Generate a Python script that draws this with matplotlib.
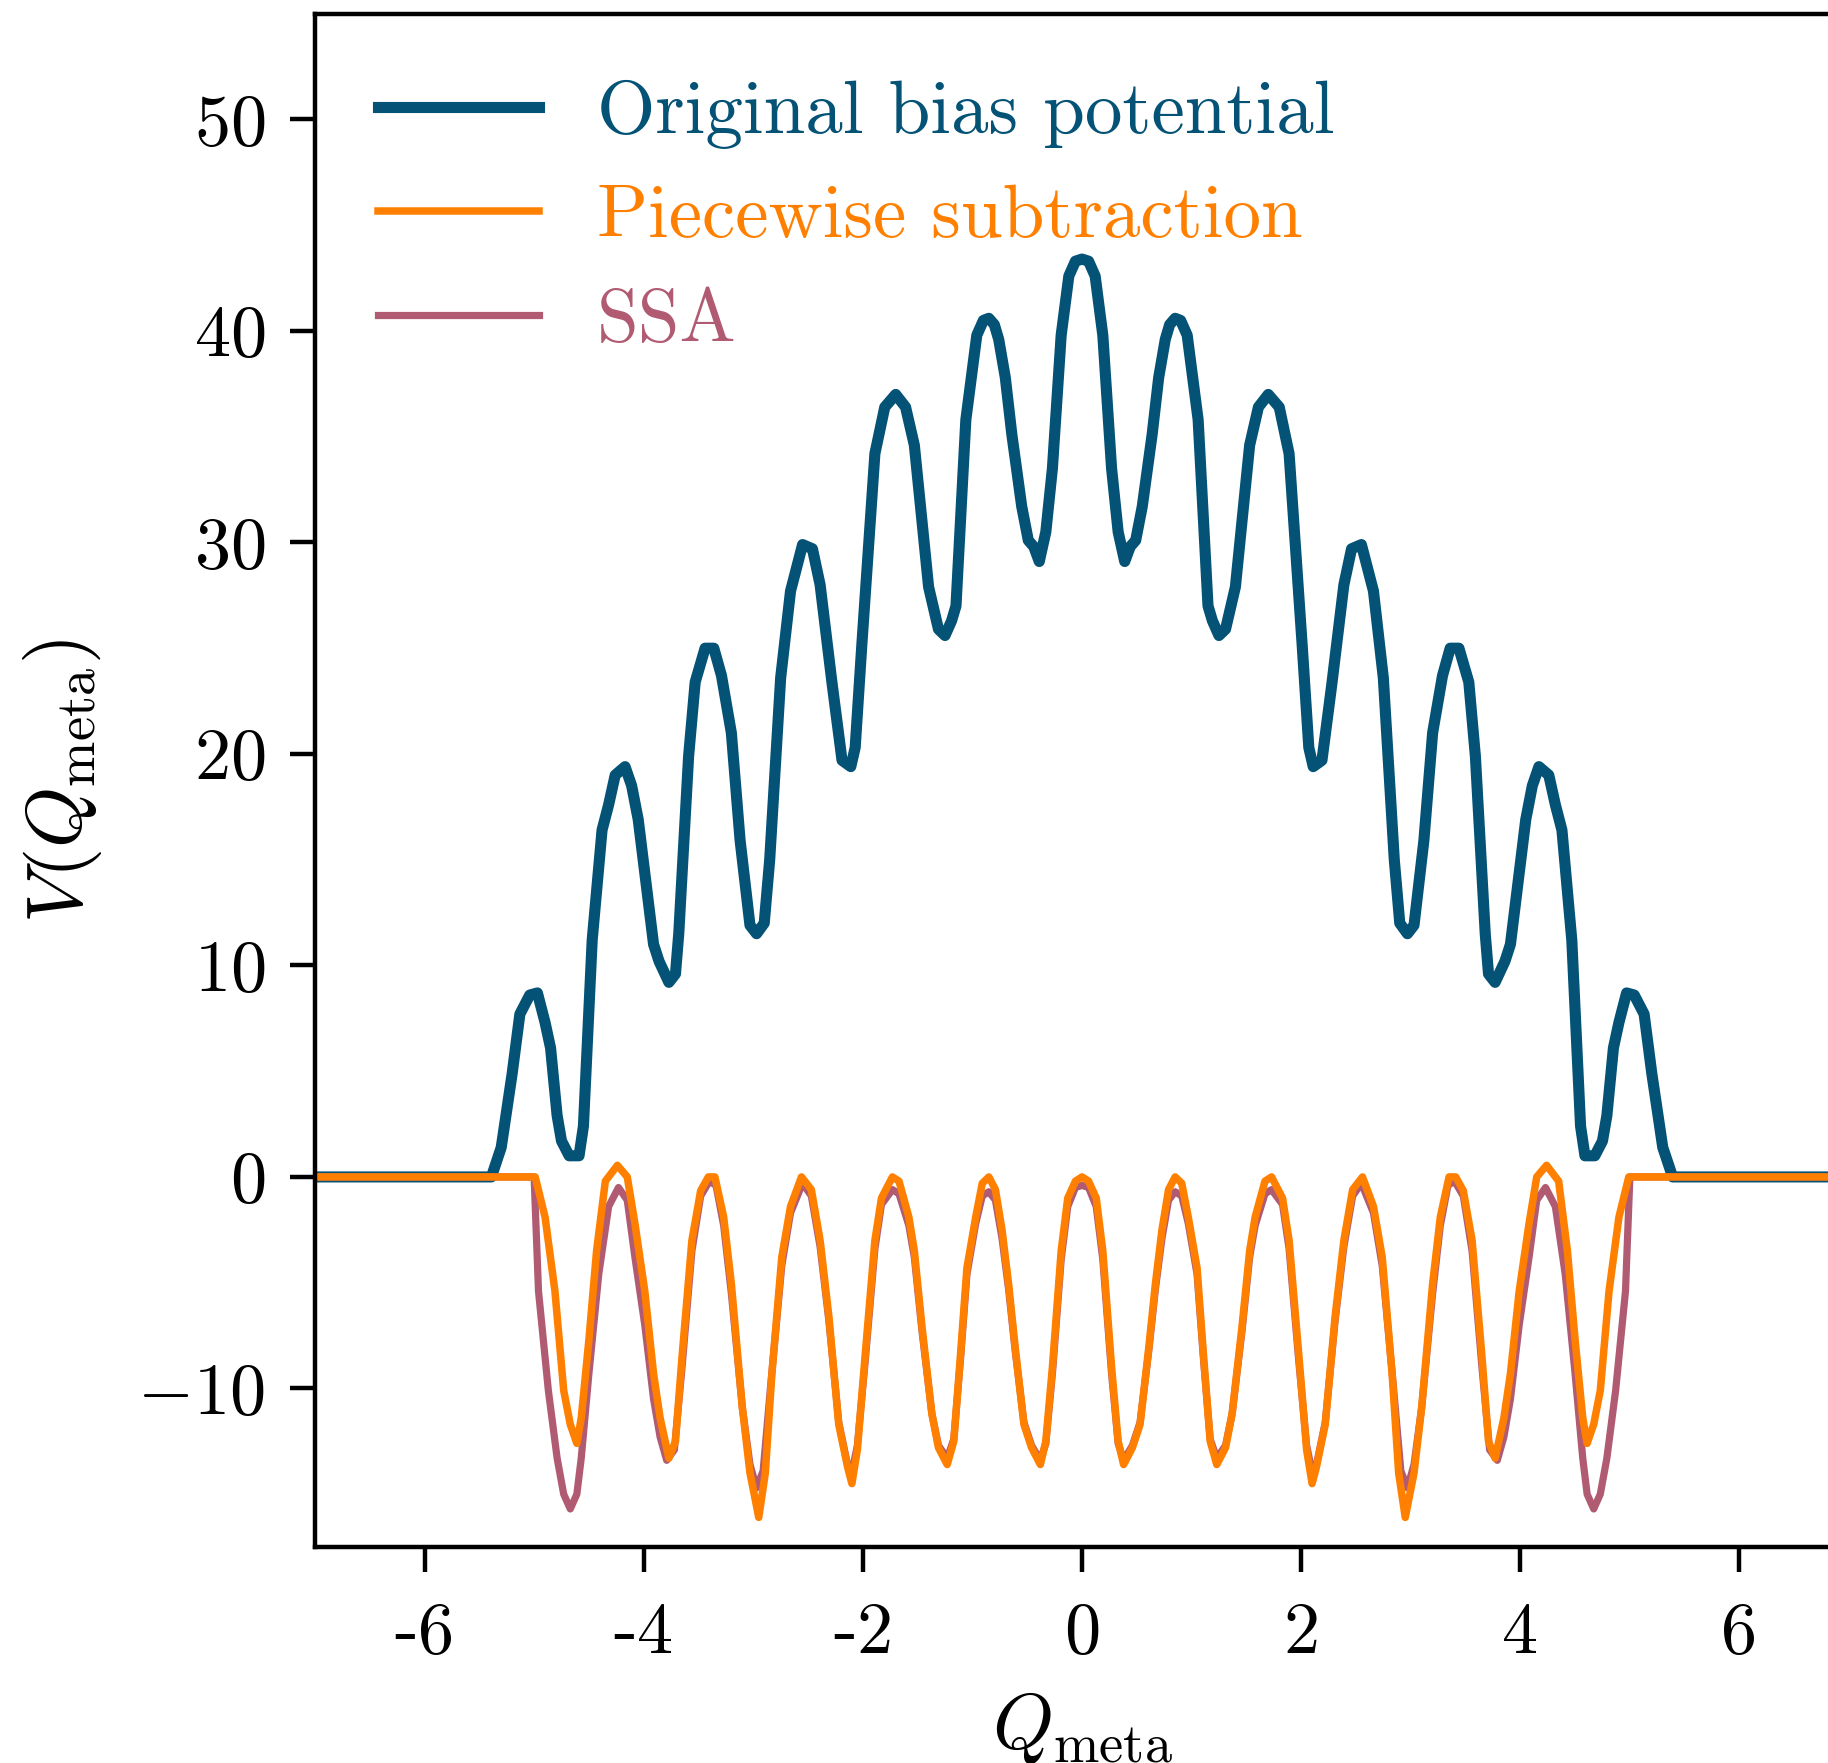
import matplotlib
matplotlib.use("Agg")
import matplotlib.pyplot as plt

plt.rcParams["font.family"] = "serif"
plt.rcParams["font.serif"] = ["cmr10"]
plt.rcParams["mathtext.fontset"] = "cm"
plt.rcParams["axes.formatter.use_mathtext"] = True

# ----- values
q_orig = [-7.0, -5.39, -5.30, -5.20, -5.13, -5.04, -4.97, -4.90, -4.85, -4.79, -4.75,
          -4.68, -4.59, -4.55, -4.47, -4.38, -4.32, -4.26, -4.17, -4.11, -4.05, -3.91,
          -3.86, -3.77, -3.71, -3.68, -3.59, -3.53, -3.44, -3.36, -3.29, -3.20, -3.12,
          -3.03, -2.97, -2.90, -2.85, -2.75, -2.66, -2.55, -2.46, -2.39, -2.28, -2.19,
          -2.11, -2.07, -2.01, -1.89, -1.80, -1.70, -1.61, -1.53, -1.40, -1.31, -1.25,
          -1.19, -1.15, -1.06, -0.96, -0.90, -0.85, -0.80, -0.76, -0.70, -0.64, -0.55,
          -0.49, -0.44, -0.39, -0.33, -0.27, -0.19, -0.12, -0.06, 0.00,
          0.06, 0.12, 0.19, 0.27, 0.33, 0.39, 0.44, 0.49, 0.55, 0.64, 0.70, 0.76,
          0.80, 0.85, 0.90, 0.96, 1.06, 1.15, 1.19, 1.25, 1.31, 1.40, 1.53, 1.61,
          1.70, 1.80, 1.89, 2.01, 2.07, 2.11, 2.19, 2.28, 2.39, 2.46, 2.55, 2.66,
          2.75, 2.85, 2.90, 2.97, 3.03, 3.12, 3.20, 3.29, 3.36, 3.44, 3.53, 3.59,
          3.68, 3.71, 3.77, 3.86, 3.91, 4.05, 4.11, 4.17, 4.26, 4.32, 4.38, 4.47,
          4.55, 4.59, 4.68, 4.75, 4.79, 4.85, 4.90, 4.97, 5.04, 5.13, 5.20, 5.30,
          5.39, 7.0]
v_orig = [0.0, 0.0, 1.4, 4.9, 7.7, 8.6, 8.7, 7.3, 6.1, 2.9, 1.7,
          1.0, 1.0, 2.4, 11.2, 16.4, 17.6, 19.0, 19.4, 18.5, 16.9, 11.0,
          10.2, 9.2, 9.6, 11.5, 19.9, 23.4, 25.0, 25.0, 23.7, 21.0, 15.9,
          11.9, 11.5, 12.0, 15.0, 23.6, 27.7, 29.9, 29.7, 28.0, 23.3, 19.7,
          19.4, 20.3, 25.1, 34.2, 36.4, 37.0, 36.4, 34.6, 27.9, 25.9, 25.6,
          26.3, 27.0, 35.8, 39.8, 40.5, 40.6, 40.3, 39.6, 37.8, 35.1, 31.7,
          30.1, 29.8, 29.1, 30.5, 33.5, 39.8, 42.6, 43.3, 43.4,
          43.3, 42.6, 39.8, 33.5, 30.5, 29.1, 29.8, 30.1, 31.7, 35.1, 37.8, 39.6,
          40.3, 40.6, 40.5, 39.8, 35.8, 27.0, 26.3, 25.6, 25.9, 27.9, 34.6, 36.4,
          37.0, 36.4, 34.2, 25.1, 20.3, 19.4, 19.7, 23.3, 28.0, 29.7, 29.9, 27.7,
          23.6, 15.0, 12.0, 11.5, 11.9, 15.9, 21.0, 23.7, 25.0, 25.0, 23.4, 19.9,
          11.5, 9.6, 9.2, 10.2, 11.0, 16.9, 18.5, 19.4, 19.0, 17.6, 16.4, 11.2,
          2.4, 1.0, 1.0, 1.7, 2.9, 6.1, 7.3, 8.7, 8.6, 7.7, 4.9, 1.4,
          0.0, 0.0]

q_sub = [-7.0, -4.99, -4.90, -4.81, -4.73, -4.67, -4.61, -4.57, -4.50, -4.43, -4.35,
         -4.24, -4.15, -4.08, -3.99, -3.91, -3.85, -3.77, -3.71, -3.65, -3.56, -3.48,
         -3.41, -3.35, -3.27, -3.20, -3.10, -3.03, -2.95, -2.89, -2.83, -2.74, -2.66,
         -2.56, -2.47, -2.39, -2.31, -2.22, -2.14, -2.10, -2.05, -1.98, -1.89, -1.83,
         -1.73, -1.67, -1.58, -1.53, -1.46, -1.37, -1.31, -1.23, -1.17, -1.11, -1.05,
         -0.97, -0.91, -0.85, -0.79, -0.73, -0.67, -0.61, -0.53, -0.46, -0.38, -0.33,
         -0.27, -0.19, -0.13, -0.06, 0.00,
         0.06, 0.13, 0.19, 0.27, 0.33, 0.38, 0.46, 0.53, 0.61, 0.67, 0.73, 0.79,
         0.85, 0.91, 0.97, 1.05, 1.11, 1.17, 1.23, 1.31, 1.37, 1.46, 1.53, 1.58,
         1.67, 1.73, 1.83, 1.89, 1.98, 2.05, 2.10, 2.14, 2.22, 2.31, 2.39, 2.47,
         2.56, 2.66, 2.74, 2.83, 2.89, 2.95, 3.03, 3.10, 3.20, 3.27, 3.35, 3.41,
         3.48, 3.56, 3.65, 3.71, 3.77, 3.85, 3.91, 3.99, 4.08, 4.15, 4.24, 4.35,
         4.43, 4.50, 4.57, 4.61, 4.67, 4.73, 4.81, 4.90, 4.99, 7.0]
v_sub = [0.0, 0.0, -1.9, -5.4, -10.1, -11.7, -12.6, -11.4, -7.7, -3.5, -0.2,
         0.55, 0.0, -2.2, -5.4, -9.3, -11.4, -13.3, -12.5, -8.5, -3.0, -0.65,
         0.0, 0.0, -1.9, -5.05, -10.9, -14.0, -16.1, -14.0, -9.3, -3.8, -1.4,
         0.0, -0.6, -3.0, -6.6, -11.7, -13.7, -14.5, -12.9, -8.5, -3.0, -1.0,
         0.0, -0.2, -1.9, -3.5, -7.1, -11.2, -12.8, -13.6, -12.5, -8.5, -4.3,
         -1.9, -0.3, 0.0, -0.6, -2.5, -5.05, -8.05, -11.7, -12.8, -13.6, -12.5,
         -9.0, -3.5, -1.0, -0.2, 0.0,
         -0.2, -1.0, -3.5, -9.0, -12.5, -13.6, -12.8, -11.7, -8.05, -5.05, -2.5, -0.6,
         0.0, -0.3, -1.9, -4.3, -8.5, -12.5, -13.6, -12.8, -11.2, -7.1, -3.5, -1.9,
         -0.2, 0.0, -1.0, -3.0, -8.5, -12.9, -14.5, -13.7, -11.7, -6.6, -3.0, -0.6,
         0.0, -1.4, -3.8, -9.3, -14.0, -16.1, -14.0, -10.9, -5.05, -1.9, 0.0, 0.0,
         -0.65, -3.0, -8.5, -12.5, -13.3, -11.4, -9.3, -5.4, -2.2, 0.0, 0.55, -0.2,
         -3.5, -7.7, -11.4, -12.6, -11.7, -10.1, -5.4, -1.9, 0.0, 0.0]

q_ssa = [-7.0, -5.00, -4.98, -4.96, -4.87, -4.79, -4.73, -4.67, -4.61, -4.57, -4.50,
         -4.41, -4.32, -4.23, -4.15, -4.08, -3.99, -3.91, -3.85, -3.79, -3.72, -3.65,
         -3.56, -3.48, -3.40, -3.34, -3.27, -3.20, -3.10, -3.03, -2.97, -2.91, -2.84,
         -2.74, -2.66, -2.55, -2.47, -2.39, -2.31, -2.22, -2.14, -2.11, -2.05, -1.98,
         -1.89, -1.83, -1.73, -1.67, -1.58, -1.53, -1.46, -1.37, -1.31, -1.23, -1.17,
         -1.11, -1.05, -0.97, -0.91, -0.85, -0.79, -0.73, -0.67, -0.61, -0.53, -0.46,
         -0.38, -0.33, -0.27, -0.19, -0.13, -0.06, 0.00,
         0.06, 0.13, 0.19, 0.27, 0.33, 0.38, 0.46, 0.53, 0.61, 0.67, 0.73, 0.79,
         0.85, 0.91, 0.97, 1.05, 1.11, 1.17, 1.23, 1.31, 1.37, 1.46, 1.53, 1.58,
         1.67, 1.73, 1.83, 1.89, 1.98, 2.05, 2.11, 2.14, 2.22, 2.31, 2.39, 2.47,
         2.55, 2.66, 2.74, 2.84, 2.91, 2.97, 3.03, 3.10, 3.20, 3.27, 3.34, 3.40,
         3.48, 3.56, 3.65, 3.72, 3.79, 3.85, 3.91, 3.99, 4.08, 4.15, 4.23, 4.32,
         4.41, 4.50, 4.57, 4.61, 4.67, 4.73, 4.79, 4.87, 4.96, 4.98, 5.00, 7.0]
v_ssa = [0.0, 0.0, -2.7, -5.4, -10.1, -13.3, -15.0, -15.7, -15.0, -13.3, -9.3,
         -4.6, -1.4, -0.5, -1.1, -3.8, -7.0, -10.5, -12.3, -13.4, -12.9, -9.0,
         -3.5, -0.9, -0.2, -0.4, -2.3, -5.5, -10.9, -13.6, -14.7, -13.9, -9.8,
         -4.2, -1.7, -0.3, -0.9, -3.3, -6.8, -11.6, -13.6, -14.2, -12.7, -8.8,
         -3.4, -1.3, -0.6, -0.8, -2.3, -3.8, -7.3, -11.2, -12.7, -13.3, -12.4,
         -8.7, -4.6, -2.2, -0.9, -0.7, -1.1, -2.9, -5.3, -8.2, -11.6, -12.7,
         -13.4, -12.6, -9.3, -3.9, -1.4, -0.5, -0.4,
         -0.5, -1.4, -3.9, -9.3, -12.6, -13.4, -12.7, -11.6, -8.2, -5.3, -2.9, -1.1,
         -0.7, -0.9, -2.2, -4.6, -8.7, -12.4, -13.3, -12.7, -11.2, -7.3, -3.8, -2.3,
         -0.8, -0.6, -1.3, -3.4, -8.8, -12.7, -14.2, -13.6, -11.6, -6.8, -3.3, -0.9,
         -0.3, -1.7, -4.2, -9.8, -13.9, -14.7, -13.6, -10.9, -5.5, -2.3, -0.4, -0.2,
         -0.9, -3.5, -9.0, -12.9, -13.4, -12.3, -10.5, -7.0, -3.8, -1.1, -0.5, -1.4,
         -4.6, -9.3, -13.3, -15.0, -15.7, -15.0, -13.3, -10.1, -5.4, -2.7, 0.0, 0.0]

x_ticks = [-6, -4, -2, 0, 2, 4, 6]
x_ticklabels = ["-6", "-4", "-2", "0", "2", "4", "6"]
y_ticks = [-10, 0, 10, 20, 30, 40, 50]

C_ORIG = "#045275"
C_SUB = "#ff8000"
C_SSA = "#b15b73"

fig = plt.figure(figsize=(9.14, 8.815), dpi=200)
ax = fig.add_axes([0.1723, 0.1225, 0.8392, 0.8697])

h_orig, = ax.plot(q_orig, v_orig, color=C_ORIG, lw=4.0, label="Original bias potential")
h_ssa, = ax.plot(q_ssa, v_ssa, color=C_SSA, lw=2.6, label="SSA")
h_sub, = ax.plot(q_sub, v_sub, color=C_SUB, lw=2.7, label="Piecewise subtraction")

ax.set_xlim(-7, 7)
ax.set_ylim(-17.5, 55)
ax.set_xticks(x_ticks)
ax.set_xticklabels(x_ticklabels)
ax.set_yticks(y_ticks)
ax.tick_params(labelsize=26, length=9, width=1.6, direction="out")
ax.tick_params(axis="x", pad=11)
ax.tick_params(axis="y", pad=9)
for s in ax.spines.values():
    s.set_linewidth(1.6)

ax.set_xlabel(r"$Q_{\rm meta}$", fontsize=28, labelpad=8)
ax.set_ylabel(r"$V(Q_{\rm meta})$", fontsize=28, labelpad=12)

leg = ax.legend(handles=[h_orig, h_sub, h_ssa], loc="upper left", frameon=False,
                fontsize=27, handlelength=2.15, handletextpad=0.77, labelspacing=0.48,
                borderpad=0, borderaxespad=0, bbox_to_anchor=(0.0411, 0.9570))
for txt, c in zip(leg.get_texts(), [C_ORIG, C_SUB, C_SSA]):
    txt.set_color(c)

fig.savefig("out.png", dpi=200)
